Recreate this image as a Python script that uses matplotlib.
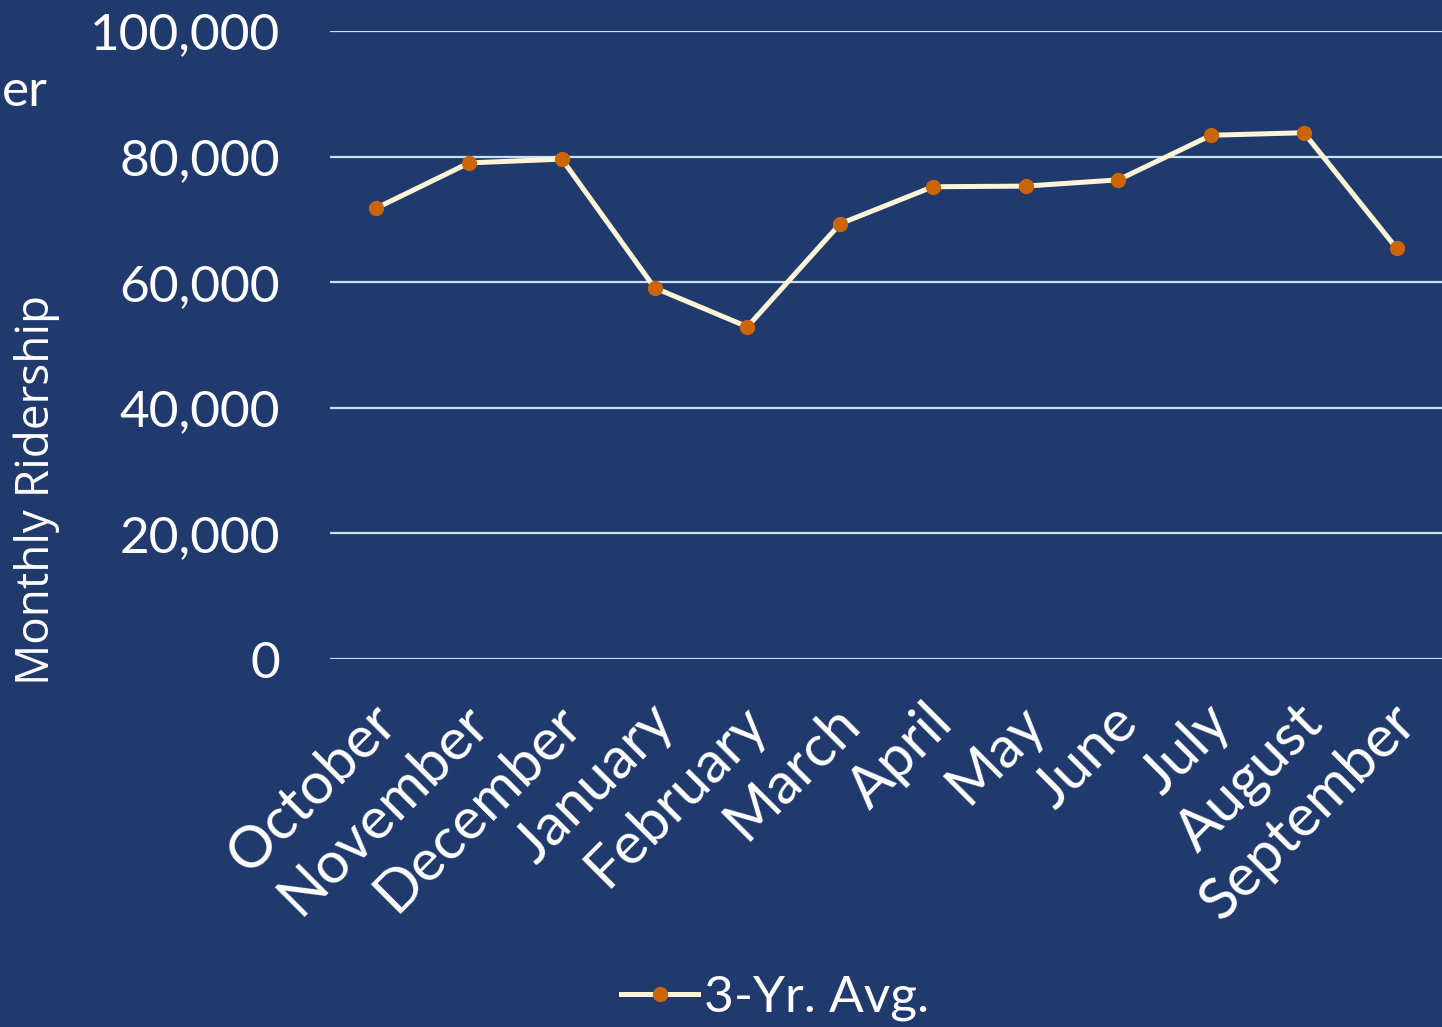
import matplotlib.pyplot as plt
import matplotlib.transforms as mtransforms

months = ["October", "November", "December", "January", "February", "March",
          "April", "May", "June", "July", "August", "September"]
avg_3yr = [71800, 79000, 79600, 59100, 52900, 69300,
           75200, 75300, 76300, 83400, 83800, 65400]
y_ticks = [0, 20000, 40000, 60000, 80000, 100000]

BG = "#203a6e"
LINE = "#fff5d6"
MARK = "#cc6508"
GRID = "#c6e2f2"

plt.rcParams["font.family"] = ["Lato", "DejaVu Sans"]

fig = plt.figure(figsize=(14.42, 10.27), dpi=100)
fig.patch.set_facecolor(BG)
ax = fig.add_axes([330 / 1442, 1 - 659 / 1027, 1113 / 1442, 628 / 1027])
ax.set_facecolor(BG)

x = range(len(months))
ax.plot(x, avg_3yr, color=LINE, linewidth=3.6, marker="o", markersize=10,
        markerfacecolor=MARK, markeredgecolor=MARK, label="3-Yr. Avg.", zorder=3)

ax.set_xlim(-0.5, len(months) - 0.5)
ax.set_ylim(0, 100000)
ax.set_yticks(y_ticks)
ax.set_yticklabels([f"{v:,}" for v in y_ticks])
ax.set_xticks(list(x))
ax.set_xticklabels(months, rotation=45, ha="right", rotation_mode="anchor")
ax.tick_params(axis="y", colors="white", labelsize=37, length=0, pad=36)
ax.tick_params(axis="x", colors="white", labelsize=42, length=0, pad=26)
# nudge month labels a little to the left
shift = mtransforms.ScaledTranslation(-8 / 100, 0, fig.dpi_scale_trans)
for lbl in ax.get_xticklabels():
    lbl.set_transform(lbl.get_transform() + shift)
ax.yaxis.grid(True, color=GRID, linewidth=1.6)
ax.set_axisbelow(True)
for s in ax.spines.values():
    s.set_visible(False)

fig.text(37 / 1442, 1 - 490 / 1027, "Monthly Ridership", rotation=90,
         ha="center", va="center", color="white", fontsize=33,
         family=["Open Sans", "DejaVu Sans"])
fig.text(2 / 1442, 1 - 92 / 1027, "er", ha="left", va="center", color="white",
         fontsize=37)

fig.legend(loc="center", bbox_to_anchor=(775 / 1442, 1 - 998 / 1027),
           frameon=False, fontsize=37, labelcolor="white",
           handlelength=1.5, handletextpad=0.1)

fig.savefig("out.png", dpi=100, facecolor=BG)
